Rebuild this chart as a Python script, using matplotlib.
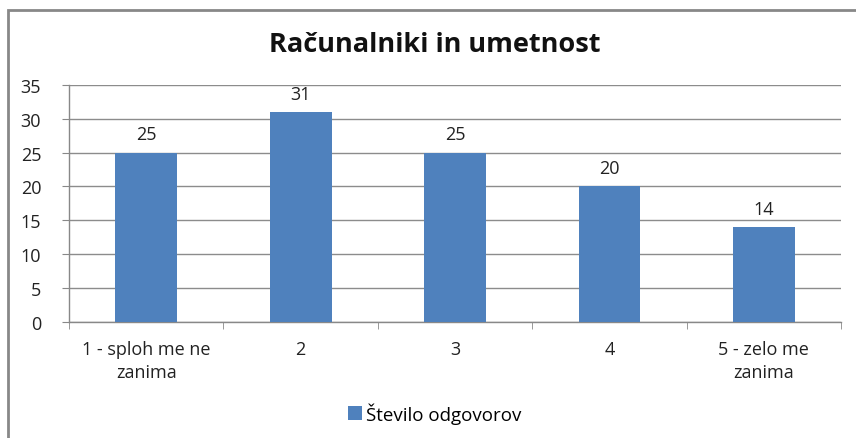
import matplotlib.pyplot as plt
from matplotlib.patches import Rectangle

# data
categories = ['1 - sploh me ne\nzanima', '2', '3', '4', '5 - zelo me\nzanima']
values = [25, 31, 25, 20, 14]
yticks = [0, 5, 10, 15, 20, 25, 30, 35]
series_name = 'Število odgovorov'
title = 'Računalniki in umetnost'

plt.rcParams['font.family'] = ['Open Sans', 'DejaVu Sans']

fig = plt.figure(figsize=(8.56, 4.39), dpi=100)
ax = fig.add_axes([0.0806, 0.265, 0.902, 0.539])

x = list(range(len(categories)))
bars = ax.bar(x, values, width=0.4, color='#4F81BD', label=series_name, zorder=3)

for xi, v in zip(x, values):
    ax.text(xi, v + 1.4, str(v), ha='center', va='bottom', fontsize=13, color='#222222')

ax.set_xlim(-0.5, len(categories) - 0.5)
ax.set_ylim(0, 35)
ax.set_yticks(yticks)
ax.set_yticklabels([str(t) for t in yticks], fontsize=13, color='#222222')
ax.set_xticks(x)
ax.set_xticklabels(categories, fontsize=13, color='#222222', linespacing=1.35)
ax.tick_params(axis='x', length=0, pad=13)
ax.tick_params(axis='y', length=5, color='#888888', pad=15)
# category boundary ticks
ax.set_xticks([i - 0.5 for i in range(len(categories) + 1)], minor=True)
ax.tick_params(axis='x', which='minor', length=5, color='#888888')

ax.grid(axis='y', color='#8c8c8c', linewidth=1.0, zorder=0)
for s in ['top', 'right']:
    ax.spines[s].set_visible(False)
for s in ['left', 'bottom']:
    ax.spines[s].set_color('#888888')
    ax.spines[s].set_linewidth(1.0)

fig.text(0.508, 0.897, title, ha='center', va='center', fontsize=19.5, fontweight='bold', color='#111111')

fig.legend(loc='center', bbox_to_anchor=(0.508, 0.057), frameon=False, fontsize=13.5,
           handlelength=0.75, handleheight=0.75, handletextpad=0.2)

# outer chart frame
fig.patches.append(Rectangle((8 / 856, -0.05), 1.2, (439 - 11) / 439 + 0.05,
                             transform=fig.transFigure, fill=False,
                             edgecolor='#888888', linewidth=2))

fig.savefig('out.png', dpi=100)
